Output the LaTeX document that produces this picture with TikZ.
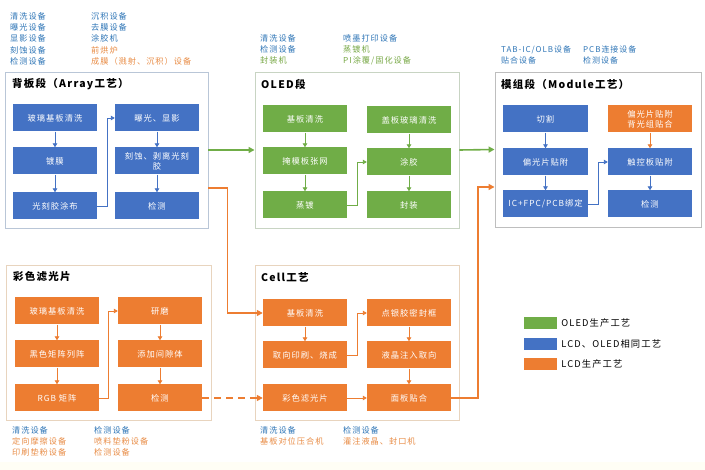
\documentclass[tikz,border=0pt]{standalone}
\usepackage{fontspec}
\setmainfont{Noto Sans CJK SC}
\newfontfamily\spaced{Noto Sans CJK SC}[LetterSpace=12]
\usetikzlibrary{arrows.meta}
\definecolor{lcdblue}{RGB}{68,114,196}
\definecolor{oledgreen}{RGB}{112,173,71}
\definecolor{lcdorange}{RGB}{237,125,49}
\definecolor{eqblue}{RGB}{46,117,182}
\definecolor{eqgreen}{RGB}{120,168,70}
\definecolor{eqorange}{RGB}{232,140,70}
\definecolor{frameblue}{RGB}{185,198,215}
\definecolor{framegreen}{RGB}{200,212,195}
\definecolor{framegray}{RGB}{190,190,190}
\definecolor{frameorange}{RGB}{232,212,190}
\tikzset{
  stagebox/.style={draw=#1,line width=.9pt,fill=white},
  stagetitle/.style={anchor=west,inner sep=0pt,font=\spaced\fontsize{10.5}{12}\selectfont\bfseries},
  proc/.style={minimum width=84pt,minimum height=27pt,inner sep=1pt,text=white,
    align=center,font=\spaced\fontsize{8.3}{10}\selectfont},
  procb/.style={proc,fill=lcdblue},
  procg/.style={proc,fill=oledgreen},
  proco/.style={proc,fill=lcdorange},
  flow/.style={-{Triangle[length=4pt,width=4.5pt]},line width=.9pt,draw=#1},
  linkflow/.style={-{Triangle[length=6pt,width=6pt]},line width=1.6pt,draw=#1},
  eqlist/.style={anchor=north west,inner sep=0pt,align=left,
    font=\spaced\fontsize{8.2}{11.3}\selectfont},
  swatch/.style={minimum width=34pt,minimum height=13pt,inner sep=0pt,draw=white,fill=#1},
  legtext/.style={anchor=west,inner sep=0pt,font=\spaced\fontsize{9.3}{11}\selectfont}
}

\begin{document}
\begin{tikzpicture}[x=1pt,y=-1pt]
\useasboundingbox (0,0) rectangle (705,470);
\fill[yellow!4] (0,462) rectangle (705,470);

% equipment lists
\node[eqlist,text=eqblue] (eqArrA) at (10,12) {清洗设备\\曝光设备\\显影设备\\刻蚀设备\\检测设备};
\node[eqlist] (eqArrB) at (91,12) {\textcolor{eqblue}{沉积设备}\\\textcolor{eqblue}{去膜设备}\\\textcolor{eqblue}{涂胶机}\\\textcolor{eqorange}{前烘炉}\\\textcolor{eqorange}{成膜（溅射、沉积）设备}};
\node[eqlist,font=\spaced\fontsize{8.2}{11}\selectfont] (eqOledA) at (260,34) {\textcolor{eqblue}{清洗设备}\\\textcolor{eqblue}{检测设备}\\\textcolor{eqgreen}{封装机}};
\node[eqlist,font=\spaced\fontsize{8.2}{11}\selectfont] (eqOledB) at (343,34) {\textcolor{eqblue}{喷墨打印设备}\\\textcolor{eqgreen}{蒸镀机}\\\textcolor{eqgreen}{PI涂覆/固化设备}};
\node[eqlist,text=eqblue,font=\spaced\fontsize{8}{10.5}\selectfont] (eqModA) at (501,46) {TAB-IC/OLB设备\\贴合设备};
\node[eqlist,text=eqblue,font=\spaced\fontsize{8}{10.5}\selectfont] (eqModB) at (583,46) {PCB连接设备\\检测设备};
\node[eqlist] (eqCfA) at (12,426) {\textcolor{eqblue}{清洗设备}\\\textcolor{eqorange}{定向摩擦设备}\\\textcolor{eqorange}{印刷垫粉设备}};
\node[eqlist] (eqCfB) at (94,426) {\textcolor{eqblue}{检测设备}\\\textcolor{eqorange}{喷料垫粉设备}\\\textcolor{eqorange}{检测设备}};
\node[eqlist] (eqCellA) at (260,426) {\textcolor{eqblue}{清洗设备}\\\textcolor{eqorange}{基板对位压合机}};
\node[eqlist] (eqCellB) at (343,426) {\textcolor{eqblue}{检测设备}\\\textcolor{eqorange}{灌注液晶、封口机}};

% stage frames
\node[stagebox=frameblue,minimum width=203pt,minimum height=156pt] (array) at (106.5,150) {};
\node[stagebox=framegreen,minimum width=204pt,minimum height=156pt] (oled) at (357,150) {};
\node[stagebox=framegray,minimum width=206pt,minimum height=155pt] (module) at (598,149.5) {};
\node[stagebox=frameorange,minimum width=205pt,minimum height=155pt] (cf) at (108.5,342.5) {};
\node[stagebox=frameorange,minimum width=204pt,minimum height=155pt] (cell) at (357,342.5) {};
\node[stagetitle] (arrayT) at (12,84) {背板段（Array工艺）};
\node[stagetitle] (oledT) at (261,84) {OLED段};
\node[stagetitle] (moduleT) at (501,84) {模组段（Module工艺）};
\node[stagetitle] (cfT) at (13,277) {彩色滤光片};
\node[stagetitle] (cellT) at (261,277) {Cell工艺};

% backplane (Array)
\node[procb] (a1) at (55,118) {玻璃基板清洗};
\node[procb] (a2) at (55,161) {镀膜};
\node[procb] (a3) at (55,206) {光刻胶涂布};
\node[procb] (a4) at (157,118) {曝光、显影};
\node[procb] (a5) at (157,161) {刻蚀、剥离光刻\\胶};
\node[procb] (a6) at (157,206) {检测};
\draw[flow=lcdblue] (a1)--(a2);
\draw[flow=lcdblue] (a2)--(a3);
\draw[flow=lcdblue] (a3.east)--++(10,0)|-(a4.west);
\draw[flow=lcdblue] (a4)--(a5);
\draw[flow=lcdblue] (a5)--(a6);

% OLED
\node[procg] (o1) at (305,119) {基板清洗};
\node[procg] (o2) at (305,161) {掩模板张网};
\node[procg] (o3) at (305,205) {蒸镀};
\node[procg] (o4) at (409,120) {盖板玻璃清洗};
\node[procg] (o5) at (409,162) {涂胶};
\node[procg] (o6) at (409,205) {封装};
\draw[flow=oledgreen] (o1)--(o2);
\draw[flow=oledgreen] (o2)--(o3);
\draw[flow=oledgreen] (o3.east)--++(10,0)|-(o5.west);
\draw[flow=oledgreen] (o4)--(o5);
\draw[flow=oledgreen] (o5)--(o6);

% module
\node[procb,minimum width=85pt] (m1) at (545.5,119) {切割};
\node[procb,minimum width=85pt] (m2) at (545.5,162) {偏光片贴附};
\node[procb,minimum width=85pt] (m3) at (545.5,204) {IC+FPC/PCB绑定};
\node[proco] (m4) at (650,119) {偏光片贴附\\背光组贴合};
\node[procb] (m5) at (650,162) {触控板贴附};
\node[procb] (m6) at (650,204) {检测};
\draw[flow=lcdblue] (m1)--(m2);
\draw[flow=lcdblue] (m2)--(m3);
\draw[flow=lcdblue] (m3.east)--++(10,0)|-(m5.west);
\draw[flow=lcdorange] (m4)--(m5);
\draw[flow=lcdblue] (m5)--(m6);

% colour filter
\node[proco] (f1) at (57,311) {玻璃基板清洗};
\node[proco] (f2) at (57,354) {黑色矩阵列阵};
\node[proco] (f3) at (57,398) {RGB 矩阵};
\node[proco] (f4) at (160,311) {研磨};
\node[proco] (f5) at (160,354) {添加间隙体};
\node[proco] (f6) at (160,398) {检测};
\draw[flow=lcdorange] (f1)--(f2);
\draw[flow=lcdorange] (f2)--(f3);
\draw[flow=lcdorange] (f3.east)--++(9,0)|-(f4.west);
\draw[flow=lcdorange] (f4)--(f5);
\draw[flow=lcdorange] (f5)--(f6);

% cell
\node[proco] (c1) at (305,313) {基板清洗};
\node[proco] (c2) at (305,355) {取向印刷、烧成};
\node[proco] (c3) at (305,398) {彩色滤光片};
\node[proco] (c4) at (409,313) {点银胶密封框};
\node[proco] (c5) at (409,355) {液晶注入取向};
\node[proco] (c6) at (409,398) {面板贴合};
\draw[flow=lcdorange] (c1)--(c2);
\draw[flow=lcdorange] (c2.east)--++(10,0)|-(c4.west);
\draw[flow=lcdorange] (c3)--(c6);
\draw[flow=lcdorange] (c4)--(c5);
\draw[flow=lcdorange] (c5)--(c6);

% links between stages
\draw[linkflow=oledgreen] (array.east)--(oled.west);
\draw[linkflow=oledgreen] (oled.east)--(module.west);
\draw[linkflow=lcdorange] ([yshift=-38pt]array.east)--++(19,0)|-(c1.west);
\draw[linkflow=lcdorange] (c6.east)--++(27,0)|-([yshift=-37.5pt]module.west);
\draw[linkflow=lcdorange,dashed,dash pattern=on 7pt off 5pt] (f6.east)--(c3.west);

% legend
\node[swatch=oledgreen] (lgG) at (540,322.5) {};
\node[swatch=lcdblue] (lgB) at (540,343.5) {};
\node[swatch=lcdorange] (lgO) at (540,363.5) {};
\node[legtext] (lgGt) at ([xshift=4pt]lgG.east) {OLED生产工艺};
\node[legtext] (lgBt) at ([xshift=4pt]lgB.east) {LCD、OLED相同工艺};
\node[legtext] (lgOt) at ([xshift=4pt]lgO.east) {LCD生产工艺};
\end{tikzpicture}
\end{document}
